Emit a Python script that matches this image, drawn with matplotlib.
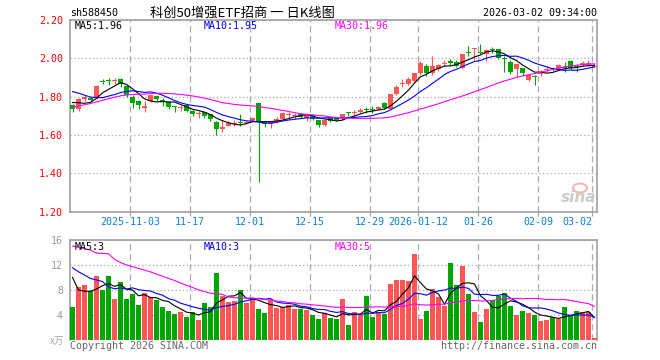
import numpy as np
import pandas as pd
import matplotlib
matplotlib.use('Agg')
import matplotlib.pyplot as plt
from matplotlib.patches import Ellipse

plt.rcParams['font.family'] = ['DejaVu Sans Mono', 'Noto Sans CJK SC']

# 日K数据 2025-10-20 .. 2026-03-02
open_ = [1.755, 1.735, 1.79, 1.795, 1.795, 1.882, 1.882, 1.88, 1.89, 1.855,
         1.80, 1.775, 1.743, 1.778, 1.805, 1.782, 1.77, 1.748, 1.742, 1.755,
         1.725, 1.708, 1.72, 1.707, 1.667, 1.63, 1.648, 1.655, 1.667, 1.663,
         1.673, 1.765, 1.668, 1.655, 1.672, 1.682, 1.702, 1.698, 1.707, 1.69,
         1.704, 1.676, 1.652, 1.686, 1.69, 1.686, 1.718, 1.714, 1.722, 1.732,
         1.736, 1.734, 1.765, 1.737, 1.816, 1.868, 1.868, 1.882, 1.922, 1.96,
         1.922, 1.945, 1.97, 1.982, 1.98, 1.951, 2.032, 2.046, 2.035, 2.021,
         2.046, 2.047, 2.0, 1.98, 1.945, 1.948, 1.887, 1.906, 1.916, 1.94,
         1.946, 1.943, 1.953, 1.986, 1.955, 1.963, 1.965, 1.955]
high = [1.76, 1.795, 1.81, 1.80, 1.86, 1.894, 1.897, 1.897, 1.895, 1.86,
        1.81, 1.78, 1.777, 1.815, 1.81, 1.795, 1.775, 1.75, 1.756, 1.76,
        1.73, 1.725, 1.725, 1.71, 1.67, 1.68, 1.67, 1.68, 1.707, 1.675,
        1.695, 1.765, 1.672, 1.673, 1.692, 1.72, 1.717, 1.712, 1.712, 1.715,
        1.71, 1.68, 1.68, 1.69, 1.695, 1.71, 1.72, 1.728, 1.742, 1.745,
        1.75, 1.752, 1.77, 1.815, 1.858, 1.89, 1.90, 1.925, 1.985, 1.97,
        2.01, 1.97, 1.99, 1.995, 1.99, 2.025, 2.064, 2.056, 2.073, 2.05,
        2.06, 2.05, 2.012, 1.99, 1.978, 1.95, 1.915, 1.915, 1.94, 1.96,
        1.955, 1.968, 1.98, 1.99, 1.97, 1.985, 1.99, 1.975]
low = [1.72, 1.725, 1.775, 1.77, 1.79, 1.864, 1.859, 1.864, 1.85, 1.80,
       1.74, 1.735, 1.72, 1.77, 1.775, 1.75, 1.733, 1.718, 1.725, 1.72,
       1.70, 1.69, 1.69, 1.67, 1.60, 1.613, 1.645, 1.645, 1.647, 1.655,
       1.665, 1.355, 1.643, 1.638, 1.66, 1.67, 1.685, 1.685, 1.688, 1.67,
       1.68, 1.64, 1.645, 1.665, 1.67, 1.68, 1.70, 1.70, 1.713, 1.713,
       1.716, 1.73, 1.735, 1.735, 1.81, 1.852, 1.86, 1.878, 1.915, 1.91,
       1.915, 1.935, 1.96, 1.965, 1.955, 1.945, 2.01, 1.986, 2.02, 1.986,
       2.03, 1.995, 1.928, 1.92, 1.904, 1.91, 1.882, 1.859, 1.91, 1.93,
       1.935, 1.94, 1.928, 1.94, 1.93, 1.96, 1.958, 1.952]
close = [1.735, 1.79, 1.795, 1.78, 1.855, 1.878, 1.88, 1.884, 1.865, 1.81,
         1.765, 1.755, 1.746, 1.81, 1.785, 1.774, 1.745, 1.744, 1.746, 1.725,
         1.71, 1.712, 1.70, 1.685, 1.63, 1.643, 1.66, 1.662, 1.663, 1.668,
         1.69, 1.667, 1.657, 1.665, 1.682, 1.715, 1.706, 1.703, 1.695, 1.711,
         1.683, 1.652, 1.676, 1.674, 1.678, 1.707, 1.714, 1.72, 1.728, 1.728,
         1.732, 1.745, 1.74, 1.812, 1.852, 1.873, 1.894, 1.922, 1.974, 1.922,
         1.96, 1.963, 1.978, 1.978, 1.96, 2.02, 2.028, 2.05, 2.03, 2.043,
         2.042, 2.004, 1.996, 1.928, 1.972, 1.925, 1.911, 1.902, 1.93, 1.944,
         1.942, 1.963, 1.95, 1.951, 1.952, 1.978, 1.975, 1.96]
# 成交量 (万)
vol = [5.33, 8.48, 8.8, 7.9, 10.24, 8.0, 10.24, 6.56, 9.28, 6.56,
       7.36, 5.6, 7.52, 6.93, 6.4, 5.28, 4.64, 4.16, 4.48, 3.73,
       4.48, 3.2, 5.92, 5.28, 10.72, 7.04, 6.08, 6.24, 8.0, 5.92,
       6.72, 4.96, 4.32, 6.4, 5.12, 5.28, 5.6, 4.96, 4.96, 4.8,
       4.0, 3.36, 4.27, 3.52, 3.36, 6.56, 2.4, 4.48, 4.0, 7.04,
       3.68, 4.48, 4.16, 8.96, 9.6, 9.6, 9.44, 13.76, 3.36, 4.64,
       8.16, 6.88, 5.44, 12.32, 8.8, 11.84, 7.36, 4.48, 2.88, 4.96,
       6.4, 7.04, 7.52, 5.44, 4.0, 4.64, 4.32, 4.0, 3.04, 3.2,
       3.68, 3.36, 5.28, 4.0, 4.64, 4.48, 4.43, 0.32]
# 窗口之前的29个交易日, 由均线起点反推
pre_close = [1.58, 1.60, 1.59, 1.61, 1.62, 1.64, 1.63, 1.66, 1.67, 1.69,
             1.71, 1.73, 1.72, 1.75, 1.77, 1.79, 1.80, 1.82, 1.84, 1.84,
             1.87, 1.90, 1.88, 1.88, 1.885, 1.795, 1.81, 1.755, 1.75]
pre_vol = [15.7, 14.8, 13.9, 25.2, 9.5, 11.7, 33.6, 24.3, 18.6, 15.5,
           14, 16, 15, 17, 15.5, 15, 14.5, 16, 15, 14.8,
           15, 14, 13.5, 12.5, 10.67, 18.5, 9.8, 7.9, 8.5]

tick_idx = [10, 20, 30, 40, 50, 58, 68, 78, 87]
tick_lbl = ['2025-11-03', '11-17', '12-01', '12-15', '12-29', '2026-01-12',
            '01-26', '02-09', '03-02']
price_ticks = [1.20, 1.40, 1.60, 1.80, 2.00, 2.20]
vol_ticks = [4, 8, 12, 16]

RED = '#ff5555'
GREEN = '#00a600'
GRID = '#aaaaaa'
SPINE = '#a0a0a0'
W, H = 660, 360

open_ = np.array(open_); high = np.array(high); low = np.array(low)
close = np.array(close); vol = np.array(vol)
x = np.arange(len(close))
colors = np.where(close >= open_, RED, GREEN)

def ma(pre, vals, n):
    s = pd.Series(list(pre) + list(vals))
    return s.rolling(n).mean().iloc[len(pre):].to_numpy()

fig = plt.figure(figsize=(6.6, 3.6), dpi=100)
ax = fig.add_axes([70 / W, 1 - 211.5 / H, 527 / W, 191.5 / H])
axv = fig.add_axes([70 / W, 20 / H, 527 / W, 100 / H])

half = 2.5 / 6
for a in (ax, axv):
    a.set_xlim(-half, x[-1] + half)
    a.set_xticks([i - half for i in tick_idx])
    a.xaxis.grid(True, color=GRID, linestyle=(0, (5, 3)), linewidth=0.9)
    a.yaxis.grid(True, color=GRID, linestyle=(0, (1, 2)), linewidth=0.9)
    a.set_axisbelow(True)
    for s in a.spines.values():
        s.set_color(SPINE)
        s.set_linewidth(1.2)

# K线
ax.vlines(x, low, high, colors=colors, linewidth=0.8, zorder=2)
body = np.maximum(np.abs(close - open_), 0.0055)
ax.bar(x, body, bottom=np.minimum(open_, close), width=5 / 6, color=colors,
       linewidth=0, zorder=3)
ax.plot(x, ma(pre_close, close, 5), color='black', lw=0.8, zorder=4)
ax.plot(x, ma(pre_close, close, 10), color='#0000ff', lw=0.8, zorder=4)
ax.plot(x, ma(pre_close, close, 30), color='#ff00ff', lw=0.8, zorder=4)
ax.set_ylim(1.20, 2.20)
ax.set_yticks(price_ticks)
ax.set_yticklabels(['%.2f' % v for v in price_ticks])
ax.set_xticklabels(tick_lbl)
ax.tick_params(axis='y', length=0, pad=5, labelcolor='#ff0000', labelsize=7.2)
ax.tick_params(axis='x', length=3, color=SPINE, pad=1, labelcolor='#0b80d0',
               labelsize=7.2)
ax.get_xticklabels()[-1].set_horizontalalignment('right')

# 成交量
axv.bar(x, vol, width=5 / 6, color=colors, linewidth=0, zorder=3)
axv.plot(x, ma(pre_vol, vol, 5), color='black', lw=0.8, zorder=4)
axv.plot(x, ma(pre_vol, vol, 10), color='#0000ff', lw=0.8, zorder=4)
axv.plot(x, ma(pre_vol, vol, 30), color='#ff00ff', lw=0.8, zorder=4)
axv.set_ylim(0, 16)
axv.set_yticks(vol_ticks)
axv.set_yticklabels([str(v) for v in vol_ticks])
axv.set_xticklabels([])
axv.tick_params(axis='both', length=0, pad=5, labelcolor='#999999', labelsize=7.2)
axv.spines['bottom'].set_visible(False)

def ftext(px, py, s, **kw):
    kw.setdefault('va', 'center')
    kw.setdefault('fontsize', 7.2)
    fig.text(px / W, 1 - py / H, s, **kw)

ftext(70, 13, 'sh588450')
ftext(150, 13, '科创50增强ETF招商 一 日K线图', fontsize=9.5,
      family=['Noto Sans CJK SC', 'DejaVu Sans'])
ftext(597, 13, '2026-03-02 09:34:00', ha='right')
ftext(75, 26, 'MA5:1.96', color='black')
ftext(204, 26, 'MA10:1.95', color='#0000ff')
ftext(334.5, 26, 'MA30:1.96', color='#ff00ff')
ftext(75, 247, 'MA5:3', color='black')
ftext(204, 247, 'MA10:3', color='#0000ff')
ftext(334.5, 247, 'MA30:5', color='#ff00ff')
ftext(64, 341, 'x万', ha='right', color='#aaaaaa', fontsize=7, style='italic',
      family=['Noto Sans CJK SC', 'DejaVu Sans'])
ftext(70, 346, 'Copyright 2026 SINA.COM', color='#666666')
ftext(597, 346, 'http://finance.sina.com.cn', ha='right', color='#666666')

# 新浪水印
ftext(579, 197, 'sina', ha='center', color='#cccccc', fontsize=11,
      fontweight='bold', style='italic', family='DejaVu Sans')
fig.add_artist(Ellipse((580 / W, 1 - 188 / H), 14 / W, 9 / H,
                       transform=fig.transFigure, facecolor='none',
                       edgecolor='#f2b8b8', linewidth=1.5))

fig.savefig('out.png', dpi=100)
